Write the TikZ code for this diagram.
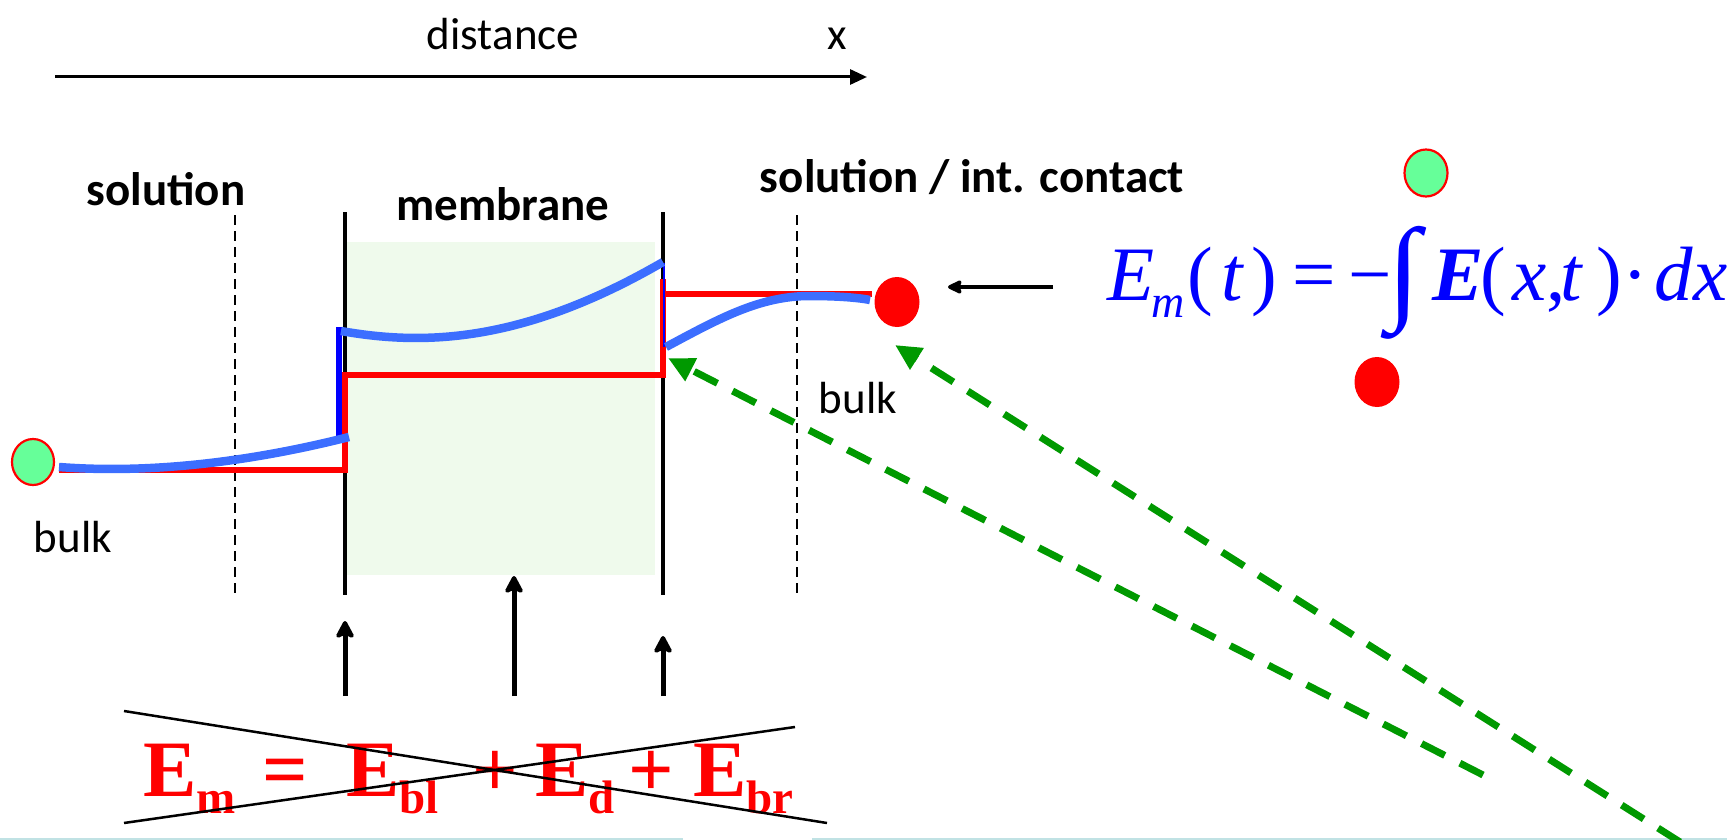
\documentclass[tikz,border=0pt]{standalone}
\usepackage{fontspec}
\setmainfont{Carlito}
\newfontfamily\tnr{Liberation Serif}
\usetikzlibrary{arrows.meta,shapes.geometric}
\definecolor{memgreen}{RGB}{239,250,236}
\definecolor{curveblue}{RGB}{60,110,255}
\definecolor{dgreen}{RGB}{0,153,0}
\definecolor{ballgreen}{RGB}{102,255,153}
\definecolor{edgecyan}{RGB}{192,226,228}
\begin{document}
\begin{tikzpicture}[x=1pt,y=-1pt,
  lbl/.style={font=\fontsize{45}{54}\selectfont, inner sep=0pt, anchor=base},
  hdr/.style={font=\bfseries\fontsize{47}{56}\selectfont, inner sep=0pt, anchor=base},
  redf/.style={text=red, font=\tnr\bfseries\fontsize{80}{96}\selectfont, inner sep=0pt, anchor=base west},
  bluef/.style={text=blue, font=\tnr\fontsize{77}{92}\selectfont, inner sep=0pt, anchor=base west},
  thindash/.style={line width=1.6pt, dash pattern=on 10pt off 6pt},
  memline/.style={line width=4pt},
  redline/.style={red, line width=5.5pt},
  blueline/.style={curveblue, line width=8.5pt},
  gball/.style={ellipse, draw=red, line width=2.2pt, fill=ballgreen, minimum width=43pt, minimum height=47pt, inner sep=0pt},
  rball/.style={ellipse, fill=red, minimum width=45pt, minimum height=50pt, inner sep=0pt},
  greenarrow/.style={dgreen, line width=7pt, dash pattern=on 26pt off 17pt, -{Triangle[length=26pt,width=24pt]}},
  uparrow/.style={line width=5pt, -{Stealth[length=21pt,width=22pt,inset=5pt,round]}},
  crossline/.style={line width=2.5pt}
]
\useasboundingbox (0,0) rectangle (1727,840);
% bottom edge line
\draw[edgecyan, line width=2pt] (0,839) -- (683,839);
\draw[edgecyan, line width=2pt] (812,839) -- (1727,839);

% distance axis
\node[lbl] (dist) at (503,50) {distance};
\node[lbl] (xlab) at (837,50) {x};
\coordinate (axs) at (55,77);
\coordinate (axe) at (867,77);
\draw[line width=3pt, -{Triangle[length=17pt,width=15pt]}] (axs) -- (axe);

% membrane area
\fill[memgreen] (347,242) rectangle (655,575);
\draw[thindash] (235,215) -- (235,598);
\draw[thindash] (797,215) -- (797,598);
\draw[memline] (345,212) -- (345,595);
\draw[memline] (663,212) -- (663,595);

% headers
\node[hdr] (sol1) at (166,205) {solution};
\node[hdr] (mem) at (503,220) {membrane};
\node[hdr] (sol2) at (972,192) {solution / int. contact};
\node[lbl] (bulk1) at (73,552) {bulk};
\node[lbl] (bulk2) at (858,413) {bulk};

% red step profile
\draw[redline] (59,470) -| (345,375) -| (663,279);
\draw[redline] (663,294) -- (872,294);

% blue potential profile
\draw[blue, line width=6pt] (339,327) -- (339,438);
\draw[blue, line width=2pt] (664,263) -- (664,347);
\draw[blueline] (59,467) .. controls (150,474) and (250,462) .. (349,437);
\draw[blueline] (341,331) .. controls (420,345) and (520,345) .. (663,262);
\draw[blueline] (666,347) .. controls (720,318) and (760,296) .. (810,296) .. controls (840,296) and (860,298) .. (870,300);

% balls
\node[gball, minimum width=42pt, minimum height=46pt] (gl) at (33,462) {};
\node[rball] (rr) at (897,302) {};
\node[gball] (gt) at (1426,173) {};
\node[rball] (rl) at (1377,382) {};

% black arrow to red ball
\coordinate (hs) at (1053,287);
\coordinate (he) at (948,287);
\draw[line width=4.5pt, -{Stealth[length=17pt,width=16pt,inset=3pt,round]}] (hs) -- (he);

% blue formula
\node[bluef] (fl) at (1107,300) {\textit{E}\hspace{-3pt}\raisebox{-17pt}{\fontsize{46}{46}\selectfont\textit{m}}\hspace{3pt}(\hspace{8pt}\textit{t}\hspace{7pt})\hspace{16pt}=\hspace{12pt}−};
\node[text=blue, inner sep=0pt] (int) at (1404,282.5) {\tnr\resizebox*{33pt}{113pt}{∫}};
\node[bluef] (fr) at (1432,300) {\textbf{\textit{E}}\hspace{-3pt}(\hspace{6pt}\textit{x},\hspace{-5pt}\textit{t}\hspace{13pt})·\hspace{7pt}\textit{dx}};

% green dashed arrows
\coordinate (g1s) at (1483,775);
\coordinate (g1e) at (668,358);
\coordinate (g2s) at (1680,842);
\coordinate (g2e) at (895,345);
\draw[greenarrow] (g1s) -- (g1e);
\draw[greenarrow] (g2s) -- (g2e);

% up arrows
\coordinate (a1s) at (345,696); \coordinate (a1e) at (345,621);
\coordinate (a2s) at (514,696); \coordinate (a2e) at (514,576);
\coordinate (a3s) at (663,696); \coordinate (a3e) at (663,636);
\draw[uparrow] (a1s) -- (a1e);
\draw[uparrow] (a2s) -- (a2e);
\draw[uparrow] (a3s) -- (a3e);

% red formula (crossed out)
\node[redf] (em) at (143,796) {E\raisebox{-17pt}{\fontsize{47}{47}\selectfont m}};
\node[redf] (eq) at (262,796) {=};
\node[redf] (ebl) at (346,796) {E\raisebox{-17pt}{\fontsize{47}{47}\selectfont bl}};
\node[redf] (p1) at (472,796) {+};
\node[redf] (ed) at (535,796) {E\raisebox{-17pt}{\fontsize{47}{47}\selectfont d}};
\node[redf] (p2) at (628,796) {+};
\node[redf] (ebr) at (693,796) {E\raisebox{-17pt}{\fontsize{47}{47}\selectfont br}};
\coordinate (c1s) at (124,711); \coordinate (c1e) at (827,823);
\coordinate (c2s) at (124,823); \coordinate (c2e) at (795,727);
\draw[crossline] (c1s) -- (c1e);
\draw[crossline] (c2s) -- (c2e);
\end{tikzpicture}
\end{document}
